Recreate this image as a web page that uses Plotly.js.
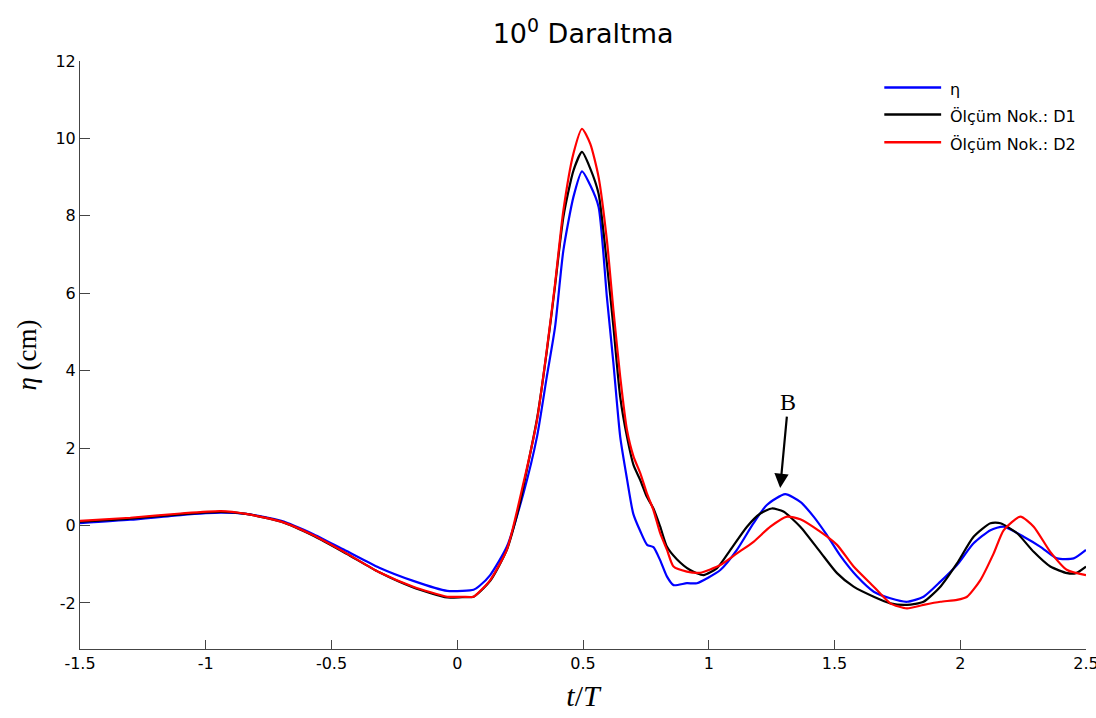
<!DOCTYPE html>
<html>
<head>
<meta charset="utf-8">
<script src="https://cdn.plot.ly/plotly-3.0.1.min.js"></script>
<style>html,body{margin:0;padding:0;background:#fff;}#chart{width:1096px;height:718px;}</style>
</head>
<body>
<div id="chart"></div>
<script>
// ---- data ----
const seriesNames = ["η", "Ölçüm Nok.: D1", "Ölçüm Nok.: D2"];
const seriesColors = ["#0000FF", "#000000", "#FF0000"];

const tEta = [-1.5,-1.3,-1.1,-0.94,-0.84,-0.70,-0.57,-0.44,-0.31,-0.175,-0.04,0.02,0.065,0.09,0.131,0.197,0.263,0.317,0.356,0.389,0.422,0.462,0.496,0.529,0.562,0.595,0.621,0.648,0.675,0.70,0.728,0.755,0.78,0.807,0.834,0.86,0.913,0.953,1.046,1.112,1.178,1.231,1.304,1.364,1.417,1.47,1.523,1.59,1.656,1.722,1.788,1.854,1.921,1.987,2.053,2.12,2.173,2.252,2.319,2.385,2.451,2.5];
const eta  = [0.06,0.15,0.27,0.33,0.30,0.12,-0.23,-0.66,-1.09,-1.43,-1.69,-1.69,-1.66,-1.55,-1.28,-0.55,0.83,2.29,3.84,5.13,7.11,8.49,9.15,8.79,8.23,5.9,4.19,2.29,1.2,0.3,-0.15,-0.5,-0.56,-0.9,-1.32,-1.54,-1.49,-1.49,-1.15,-0.63,0.06,0.53,0.81,0.61,0.23,-0.25,-0.78,-1.32,-1.71,-1.88,-1.97,-1.84,-1.45,-1.02,-0.46,-0.12,-0.03,-0.29,-0.55,-0.85,-0.85,-0.63];

const tD1 = [-1.5,-1.3,-1.1,-0.94,-0.84,-0.70,-0.57,-0.44,-0.31,-0.175,-0.04,0.02,0.065,0.131,0.197,0.25,0.263,0.317,0.356,0.389,0.422,0.462,0.496,0.529,0.562,0.595,0.621,0.648,0.675,0.701,0.728,0.754,0.78,0.807,0.834,0.873,0.926,0.979,1.033,1.086,1.152,1.205,1.251,1.297,1.364,1.443,1.51,1.576,1.656,1.722,1.788,1.854,1.921,1.987,2.053,2.12,2.16,2.226,2.292,2.358,2.425,2.46,2.5];
const d1   = [0.1,0.18,0.29,0.35,0.30,0.10,-0.27,-0.73,-1.21,-1.6,-1.86,-1.85,-1.84,-1.43,-0.63,0.6,1.0,2.75,4.5,6.2,7.97,9.17,9.65,9.22,8.57,6.77,5.13,3.32,2.29,1.56,1.17,0.74,0.44,-0.03,-0.55,-0.87,-1.15,-1.28,-1.1,-0.63,-0.03,0.31,0.44,0.36,-0.03,-0.68,-1.23,-1.58,-1.84,-2.01,-2.05,-1.97,-1.58,-0.98,-0.29,0.06,0.06,-0.2,-0.68,-1.06,-1.23,-1.23,-1.06];

const tD2 = [-1.5,-1.3,-1.1,-0.94,-0.84,-0.70,-0.57,-0.44,-0.31,-0.175,-0.04,0.02,0.065,0.09,0.131,0.197,0.263,0.317,0.356,0.389,0.422,0.462,0.496,0.529,0.562,0.595,0.621,0.648,0.675,0.701,0.728,0.754,0.78,0.807,0.834,0.86,0.913,0.966,1.046,1.112,1.178,1.245,1.311,1.364,1.443,1.51,1.576,1.656,1.722,1.788,1.854,1.921,1.987,2.027,2.08,2.133,2.173,2.239,2.292,2.358,2.425,2.5];
const d2   = [0.12,0.2,0.31,0.37,0.30,0.1,-0.26,-0.72,-1.21,-1.58,-1.84,-1.84,-1.84,-1.7,-1.41,-0.63,1.09,2.72,4.53,6.25,8.14,9.61,10.25,9.86,9.0,7.37,5.56,3.84,2.46,1.78,1.35,0.83,0.4,-0.2,-0.63,-1.06,-1.19,-1.22,-1.02,-0.72,-0.42,-0.03,0.23,0.16,-0.16,-0.5,-1.06,-1.58,-2.01,-2.14,-2.05,-1.97,-1.92,-1.84,-1.41,-0.72,-0.12,0.23,-0.03,-0.68,-1.15,-1.28];

const xTickVals = [-1.5,-1,-0.5,0,0.5,1,1.5,2,2.5];
const xTickText = ["-1.5","-1","-0.5","0","0.5","1","1.5","2","2.5"];
const yTickVals = [-2,0,2,4,6,8,10,12];
const yTickText = ["-2","0","2","4","6","8","10","12"];
const arrowLabel = "B";
const arrowHead = [1.284, 0.97];
const labelPos = [1.316, 3.19];

// ---- build ----
const xs = [tEta, tD1, tD2];
const ys = [eta, d1, d2];
const traces = xs.map((x, i) => ({
  x: x, y: ys[i], type: "scatter", mode: "lines", name: seriesNames[i],
  line: {color: seriesColors[i], width: 2.2, shape: "spline", smoothing: 0.6},
  showlegend: false, hoverinfo: "skip"
}));

const tickFont = {family: "DejaVu Sans, Arial, sans-serif", size: 16, color: "#000"};
const legY = [0.955, 0.909, 0.862];
const shapes = [];
const annotations = [];
seriesNames.forEach((n, i) => {
  shapes.push({type: "line", xref: "paper", yref: "paper", x0: 0.7995, x1: 0.856, y0: legY[i], y1: legY[i],
    line: {color: seriesColors[i], width: 2.5}});
  annotations.push({xref: "paper", yref: "paper", x: 0.8625, y: legY[i] - 0.004, xanchor: "left", yanchor: "middle",
    text: n, showarrow: false, font: tickFont});
});
annotations.push({x: arrowHead[0], y: arrowHead[1], ax: labelPos[0], ay: labelPos[1], axref: "x", ayref: "y",
  xref: "x", yref: "y", text: arrowLabel, showarrow: true, arrowhead: 2, arrowsize: 1.3, arrowwidth: 2.2,
  arrowcolor: "#000", standoff: 0, startstandoff: 0,
  font: {family: "Liberation Serif, Times New Roman, serif", size: 24, color: "#000"}});

const layout = {
  width: 1096, height: 718,
  margin: {l: 80, r: 10, t: 60.5, b: 69, pad: 0},
  paper_bgcolor: "#fff", plot_bgcolor: "#fff",
  title: {text: "10<sup>0</sup> Daraltma", x: 0.532, xanchor: "center", y: 0.953, yanchor: "middle",
    font: {family: "DejaVu Sans, Arial, sans-serif", size: 27, color: "#000"}},
  xaxis: {range: [-1.5, 2.5], tickvals: xTickVals, ticktext: xTickText, ticks: "inside", ticklen: 9,
    tickcolor: "#444", tickwidth: 1, showline: true, linecolor: "#444", linewidth: 1, showgrid: false, zeroline: false,
    tickfont: tickFont, mirror: false, ticklabeloverflow: "allow",
    title: {text: "<i>t</i>/<i>T</i>", font: {family: "Liberation Serif, Times New Roman, serif", size: 30, color: "#000"}, standoff: 12}},
  yaxis: {range: [-3.19, 12], tickvals: yTickVals, ticktext: yTickText, ticks: "inside", ticklen: 10,
    tickcolor: "#444", tickwidth: 1, showline: true, linecolor: "#444", linewidth: 1, showgrid: false, zeroline: false,
    tickfont: tickFont, mirror: false,
    title: {text: "<i>η</i> (cm)", font: {family: "Liberation Serif, Times New Roman, serif", size: 27, color: "#000"}, standoff: 10}},
  shapes: shapes, annotations: annotations, showlegend: false
};
Plotly.newPlot("chart", traces, layout, {displayModeBar: false, staticPlot: true});
</script>
</body>
</html>
